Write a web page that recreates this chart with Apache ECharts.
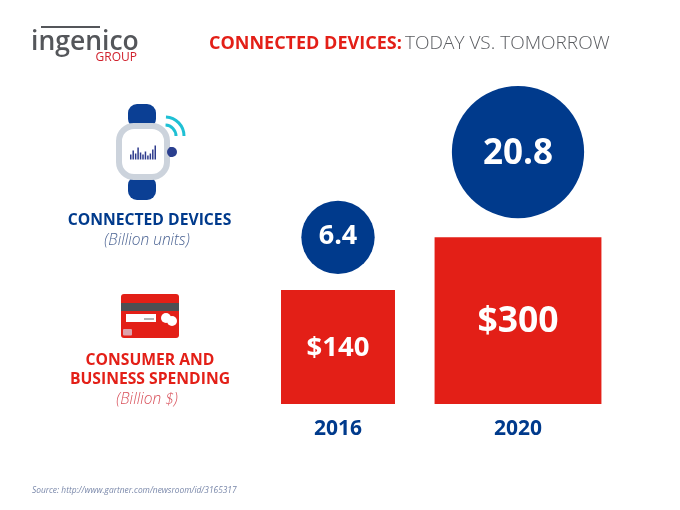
<!DOCTYPE html>
<html><head><meta charset="utf-8">
<style>html,body{margin:0;padding:0;background:#fff}#c{width:680px;height:510px}</style>
<script src="https://cdn.jsdelivr.net/npm/echarts@6/dist/echarts.min.js"></script>
</head><body><div id="c"></div>
<script>
const years = ['2016', '2020'];
const spending = [140, 300];
const devices = [6.4, 20.8];
const spendingLabels = ['$140', '$300'];
const BLUE = '#003a8c', RED = '#e31f17', FONT = '"Open Sans","Noto Sans",sans-serif';
const side = v => Math.sqrt(v);
const chart = echarts.init(document.getElementById('c'), null, {renderer: 'canvas'});
const txt = (x, y, text, size, color, weight, style, align) => ({
  type: 'text', x, y,
  style: {text, fontSize: size, fill: color, fontWeight: weight || 'normal', fontStyle: style || 'normal',
    fontFamily: FONT, align: align || 'center', verticalAlign: 'middle'}
});
const rect = (x, y, w, h, fill, r) => ({type: 'rect', shape: {x, y, width: w, height: h, r: r || 0}, style: {fill}});
const miniBars = [5, 9, 6, 12, 7, 5, 8, 4, 6, 10, 14];
const g = [
  // logo
  txt(31, 42, 'ingenico', 26.5, '#54565a', 600, 'normal', 'left'),
  rect(41, 26, 59, 2, '#54565a'),
  txt(137, 58, 'GROUP', 12, '#d0202c', 'normal', 'normal', 'right'),
  // title
  {type: 'text', x: 209, y: 44, style: {
    rich: {a: {fontSize: 18, fontWeight: 'bold', fill: RED, fontFamily: FONT},
           b: {fontSize: 19, fill: '#5a5c60', fontFamily: FONT, fontWeight: 300}},
    text: '{a|CONNECTED DEVICES:} {b|TODAY VS. TOMORROW}', verticalAlign: 'middle'}},
  // watch
  rect(128, 104, 28, 24, '#0b3f94', 9), rect(128, 176, 28, 24, '#0b3f94', 9),
  {type: 'rect', shape: {x: 119, y: 126, width: 48, height: 51, r: 15}, style: {fill: '#fff', stroke: '#ccd3dc', lineWidth: 6}},
  {type: 'circle', shape: {cx: 172, cy: 152, r: 5}, style: {fill: '#2a3f8f'}},
  rect(169.5, 147, 3, 10, '#2a3f8f'),
  {type: 'arc', shape: {cx: 165, cy: 136, r: 19, startAngle: -Math.PI / 2 + 0.05, endAngle: 0}, style: {stroke: '#1fc0d4', lineWidth: 3, fill: 'none'}},
  {type: 'arc', shape: {cx: 165, cy: 136, r: 11, startAngle: -Math.PI / 2 + 0.05, endAngle: 0}, style: {stroke: '#1fc0d4', lineWidth: 3, fill: 'none'}},
  ...miniBars.map((h, i) => rect(130 + i * 2.45, 159.5 - h, 1.5, h, '#2d3a8c')),
  // card
  rect(121, 294, 58, 44, RED, 3), rect(121, 303, 58, 8, '#4d4f53'),
  rect(126, 314, 30, 8, '#fff'), rect(144, 318.5, 10, 1, '#666'),
  {type: 'circle', shape: {cx: 166, cy: 318, r: 5}, style: {fill: '#fff'}},
  {type: 'circle', shape: {cx: 172, cy: 321, r: 5}, style: {fill: '#fff'}},
  rect(123, 329, 9, 6.5, '#dca3ac', 1),
  // side labels
  txt(149.5, 221, 'CONNECTED DEVICES', 15.7, BLUE, 'bold'),
  txt(147, 241, '(Billion units)', 15.5, '#4d6594', 300, 'italic'),
  txt(150, 361, 'CONSUMER AND', 15.7, RED, 'bold'),
  txt(150, 380, 'BUSINESS SPENDING', 15.7, RED, 'bold'),
  txt(147, 400, '(Billion $)', 15.5, '#d8505a', 300, 'italic'),
  txt(32, 491, 'Source: http://www.gartner.com/newsroom/id/3165317', 8.4, '#7a88aa', 'normal', 'italic', 'left')
];
chart.setOption({
  animation: false,
  backgroundColor: '#fff',
  graphic: {elements: g},
  grid: {left: 248, width: 360, top: 115, height: 289},
  xAxis: {type: 'category', data: years, axisLine: {show: false}, axisTick: {show: false},
    axisLabel: {color: BLUE, fontWeight: 'bold', fontSize: 21, fontFamily: FONT, margin: 15}},
  yAxis: {type: 'value', min: 0, max: 30, show: false},
  series: [
    {type: 'custom', data: spending.map((v, i) => [i, side(v)]),
      encode: {x: 0, y: 1},
      renderItem(p, api) {
        const top = api.coord([api.value(0), api.value(1)]);
        const base = api.coord([api.value(0), 0]);
        const s = base[1] - top[1];
        return {type: 'group', children: [
          {type: 'rect', shape: {x: base[0] - s / 2, y: top[1], width: s, height: s}, style: {fill: RED}},
          {type: 'text', x: base[0], y: top[1] + s / 2 + 1,
            style: {text: spendingLabels[p.dataIndex], fill: '#fff', fontWeight: 'bold',
              fontSize: p.dataIndex ? 35.5 : 27.5, fontFamily: FONT, align: 'center', verticalAlign: 'middle'}}
        ]};
      }},
    {type: 'scatter', data: devices.map((v, i) => ({
        value: [i, side(spending[i])],
        symbolSize: 29 * Math.sqrt(v),
        symbolOffset: [0, -(14.5 * Math.sqrt(v) + (i ? 19 : 16))],
        label: {show: true, position: 'inside', offset: [0, i ? 2 : -1],
          formatter: String(v), color: '#fff', fontWeight: 'bold', fontFamily: FONT, fontSize: i ? 35 : 27}
      })),
      itemStyle: {color: BLUE, opacity: 1}}
  ]
});
</script></body></html>
